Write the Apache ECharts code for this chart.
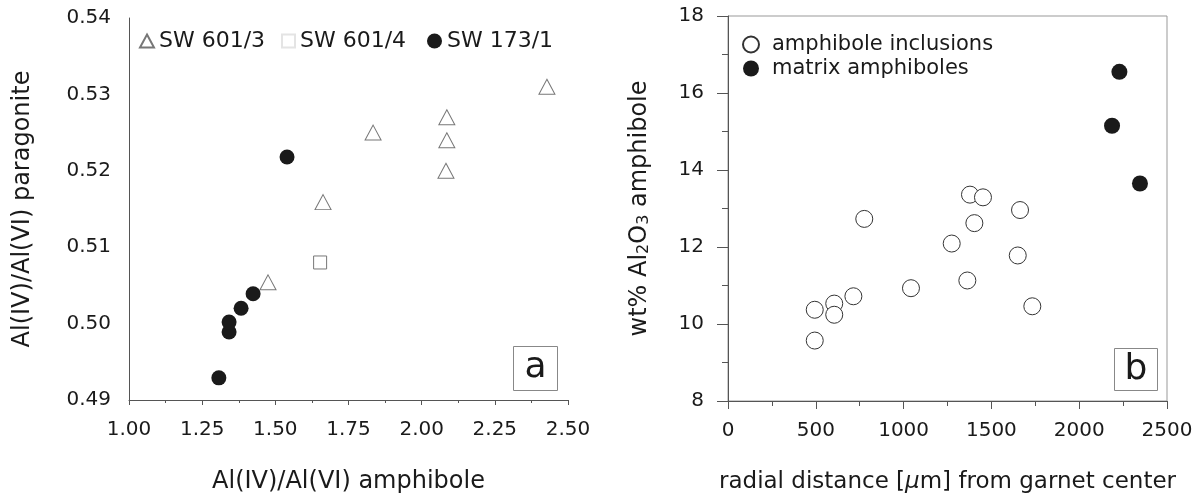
<!DOCTYPE html>
<html>
<head>
<meta charset="utf-8">
<script src="https://cdn.jsdelivr.net/npm/echarts@6/dist/echarts.min.js"></script>
<style>
html,body{margin:0;padding:0;background:#fff;}
#c{width:1202px;height:499px;}
</style>
</head>
<body>
<div id="c"></div>
<script>
// ---- Panel a data: Al(IV)/Al(VI) amphibole vs Al(IV)/Al(VI) paragonite ----
const sw6013 = [[1.475,0.5054],[1.663,0.5159],[1.834,0.5250],[2.086,0.5270],[2.086,0.5240],[2.083,0.5200],[2.428,0.5310]];
const sw6014 = [[1.653,0.5080]];
const sw1731 = [[1.307,0.4929],[1.342,0.4989],[1.342,0.5002],[1.383,0.5020],[1.424,0.5039],[1.540,0.5218]];
const seriesNamesA = ['SW 601/3','SW 601/4','SW 173/1'];

// ---- Panel b data: radial distance vs wt% Al2O3 ----
const inclusions = [[494,10.37],[494,9.57],[605,10.53],[605,10.24],[714,10.72],[776,12.73],[1042,10.93],[1274,12.09],[1363,11.13],[1378,13.36],[1452,13.29],[1403,12.62],[1663,12.96],[1650,11.78],[1733,10.46]];
const matrix = [[2229,16.55],[2187,15.15],[2346,13.65]];
const seriesNamesB = ['amphibole inclusions','matrix amphiboles'];

const FONT = 'DejaVu Sans';
const TXT = '#1a1a1a';
const AXC = '#555';

const chart = echarts.init(document.getElementById('c'), null, {renderer:'canvas'});
chart.setOption({
  animation:false,
  textStyle:{fontFamily:FONT,color:TXT},
  grid:[
    {left:129,right:634,top:18,bottom:98},
    {left:728,right:35,top:16,bottom:98,show:true,borderColor:'#999',borderWidth:1,backgroundColor:'transparent'}
  ],
  xAxis:[
    {gridIndex:0,type:'value',min:1,max:2.5,interval:0.25,
     axisLine:{lineStyle:{color:AXC,width:1}},
     axisTick:{show:true,length:5,lineStyle:{color:AXC}},
     minorTick:{show:true,splitNumber:2,length:3,lineStyle:{color:AXC}},
     splitLine:{show:false},
     axisLabel:{color:TXT,fontSize:20,fontFamily:FONT,margin:20,formatter:v=>v.toFixed(2)},
     name:'Al(IV)/Al(VI) amphibole',nameLocation:'middle',nameGap:70,
     nameTextStyle:{fontSize:24,color:TXT,fontFamily:FONT}},
    {gridIndex:1,type:'value',min:0,max:2500,interval:500,
     axisLine:{lineStyle:{color:AXC,width:1}},
     axisTick:{show:true,length:8,lineStyle:{color:AXC}},
     minorTick:{show:true,splitNumber:2,length:5,lineStyle:{color:AXC}},
     splitLine:{show:false},
     axisLabel:{color:TXT,fontSize:20,fontFamily:FONT,margin:20,formatter:v=>String(v)},
     name:'radial distance [{it|μ}m] from garnet center',nameLocation:'middle',nameGap:70,
     nameTextStyle:{fontSize:23,color:TXT,fontFamily:FONT,rich:{it:{fontSize:23,fontStyle:'italic',fontFamily:FONT,color:TXT}}}}
  ],
  yAxis:[
    {gridIndex:0,type:'value',min:0.49,max:0.54,interval:0.01,
     axisLine:{show:true,lineStyle:{color:AXC,width:1}},
     axisTick:{show:false},
     splitLine:{show:false},
     axisLabel:{color:TXT,fontSize:20,fontFamily:FONT,margin:18,formatter:v=>v.toFixed(2)},
     name:'Al(IV)/Al(VI) paragonite',nameLocation:'middle',nameGap:94,
     nameTextStyle:{fontSize:24,color:TXT,fontFamily:FONT}},
    {gridIndex:1,type:'value',min:8,max:18,interval:2,
     axisLine:{show:true,lineStyle:{color:AXC,width:1}},
     axisTick:{show:true,length:11,lineStyle:{color:AXC}},
     minorTick:{show:true,splitNumber:2,length:6,lineStyle:{color:AXC}},
     splitLine:{show:false},
     axisLabel:{color:TXT,fontSize:20,fontFamily:FONT,margin:24,formatter:v=>String(v)},
     name:'wt% Al{sub|2}O{sub|3} amphibole',nameLocation:'middle',nameGap:76,
     nameTextStyle:{fontSize:24,color:TXT,fontFamily:FONT,lineHeight:24,
       rich:{sub:{fontSize:16,fontFamily:FONT,color:TXT,verticalAlign:'bottom',lineHeight:12}}}}
  ],
  legend:[
    {data:[seriesNamesA[0]],left:139,top:30,padding:0,itemWidth:14,itemHeight:13,
     textStyle:{fontSize:22,color:TXT,fontFamily:FONT}},
    {data:[{name:seriesNamesA[1],itemStyle:{borderColor:'#e4e4e4'}}],left:281,top:30,padding:0,itemWidth:13,itemHeight:13,
     textStyle:{fontSize:22,color:TXT,fontFamily:FONT}},
    {data:[seriesNamesA[2]],left:427,top:30,padding:0,itemWidth:15,itemHeight:15,
     textStyle:{fontSize:22,color:TXT,fontFamily:FONT}},
    {data:seriesNamesB,left:742,top:34,orient:'vertical',itemGap:3,padding:0,itemWidth:16,itemHeight:16,
     textStyle:{fontSize:21,color:TXT,fontFamily:FONT,padding:[0,0,0,8]}}
  ],
  series:[
    {name:seriesNamesA[0],type:'scatter',xAxisIndex:0,yAxisIndex:0,data:sw6013,
     symbol:'triangle',symbolSize:[16,15],
     itemStyle:{color:'#fff',borderColor:'#777',borderWidth:1,opacity:1}},
    {name:seriesNamesA[1],type:'scatter',xAxisIndex:0,yAxisIndex:0,data:sw6014,
     symbol:'rect',symbolSize:13,
     itemStyle:{color:'#fff',borderColor:'#777',borderWidth:1,opacity:1}},
    {name:seriesNamesA[2],type:'scatter',xAxisIndex:0,yAxisIndex:0,data:sw1731,
     symbol:'circle',symbolSize:15,
     itemStyle:{color:'#1a1a1a',opacity:1}},
    {name:seriesNamesB[0],type:'scatter',xAxisIndex:1,yAxisIndex:1,data:inclusions,
     symbol:'circle',symbolSize:17,
     itemStyle:{color:'#fff',borderColor:'#333',borderWidth:1,opacity:1}},
    {name:seriesNamesB[1],type:'scatter',xAxisIndex:1,yAxisIndex:1,data:matrix,
     symbol:'circle',symbolSize:16,
     itemStyle:{color:'#1a1a1a',opacity:1}}
  ],
  graphic:[
    {type:'group',left:513,top:346,children:[
      {type:'rect',shape:{x:0,y:0,width:44,height:44},style:{fill:'#fff',stroke:'#888',lineWidth:1}},
      {type:'text',x:22,y:21,style:{text:'a',font:'36px "DejaVu Sans"',fill:TXT,textAlign:'center',textVerticalAlign:'middle'}}
    ]},
    {type:'group',left:1114,top:348,children:[
      {type:'rect',shape:{x:0,y:0,width:43,height:42},style:{fill:'#fff',stroke:'#888',lineWidth:1}},
      {type:'text',x:21.5,y:21,style:{text:'b',font:'36px "DejaVu Sans"',fill:TXT,textAlign:'center',textVerticalAlign:'middle'}}
    ]}
  ]
});
</script>
</body>
</html>
